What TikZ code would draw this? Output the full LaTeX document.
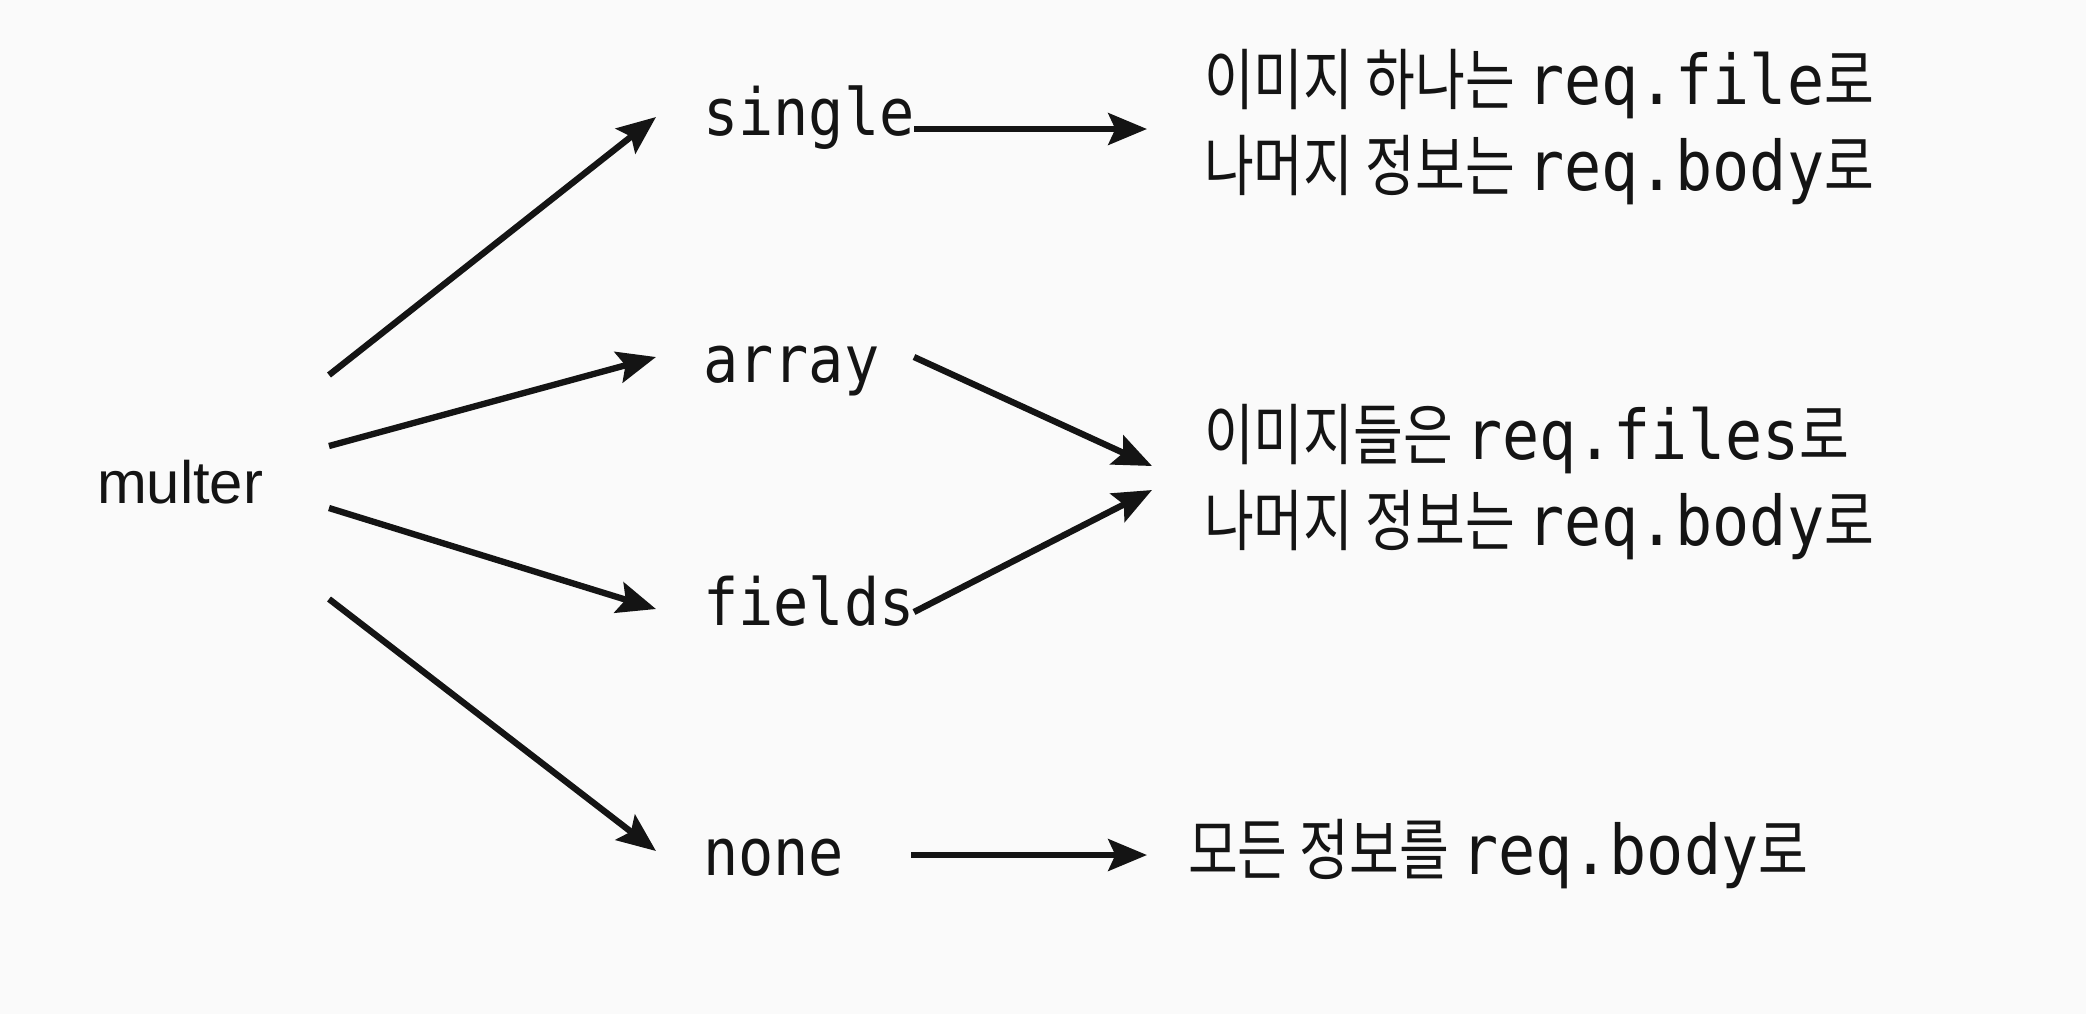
\documentclass[tikz,border=0pt]{standalone}
\usepackage{fontspec}
\usetikzlibrary{arrows.meta}
\setmainfont{Liberation Sans}
\newfontfamily\monof{DejaVu Sans Mono}[FakeStretch=0.9]
\newfontfamily\krf{Noto Sans CJK KR}[FakeStretch=0.81]
\definecolor{ink}{HTML}{141414}
\definecolor{paper}{HTML}{FAFAFA}
\newcommand{\kt}[1]{{\krf #1}}
\newcommand{\mt}[1]{{\monof\fontsize{19.5}{22}\selectfont #1}}
\begin{document}
\begin{tikzpicture}[x=0.01cm,y=-0.01cm,
  lbl/.style={inner sep=0pt,outer sep=0pt,anchor=base west,text=ink},
  sanslbl/.style={lbl,font=\fontsize{17}{20}\selectfont},
  monolbl/.style={lbl,font=\monof\fontsize{18.5}{22}\selectfont},
  desc/.style={lbl,font=\fontsize{19}{22}\selectfont},
  arr/.style={draw=ink,line width=1.8pt,-{Stealth[length=11pt,width=9pt,inset=2pt]}}]
\fill[paper] (0,0) rectangle (2086,1014);
\useasboundingbox (0,0) rectangle (2086,1014);

\node[sanslbl] (multer) at (97,503) {multer};

\node[monolbl] (single) at (703,135) {single};
\node[monolbl] (array)  at (703,382) {array};
\node[monolbl] (fields) at (703,625) {fields};
\node[monolbl] (none)   at (703,875) {none};

\node[desc] (t1a) at (1204,104) {\kt{이미지 하나는 }\mt{req.file}\kt{로}};
\node[desc] (t1b) at (1204,190) {\kt{나머지 정보는 }\mt{req.body}\kt{로}};
\node[desc] (t2a) at (1204,459) {\kt{이미지들은 }\mt{req.files}\kt{로}};
\node[desc] (t2b) at (1204,545) {\kt{나머지 정보는 }\mt{req.body}\kt{로}};
\node[desc] (t3)  at (1188,874) {\kt{모든 정보를 }\mt{req.body}\kt{로}};

\draw[arr] ([shift={(232,-128)}]multer.base west) -- ([shift={(-47,-18)}]single.base west);
\draw[arr] ([shift={(232,-57)}]multer.base west) -- ([shift={(-47,-25)}]array.base west);
\draw[arr] ([shift={(232,5)}]multer.base west) -- ([shift={(-47,-16)}]fields.base west);
\draw[arr] ([shift={(232,96)}]multer.base west) -- ([shift={(-47,-24)}]none.base west);

\draw[arr] ([shift={(211,-6)}]single.base west) -- ([shift={(-57,25)}]t1a.base west);
\draw[arr] ([shift={(211,-25)}]array.base west) -- ([shift={(-52,7)}]t2a.base west);
\draw[arr] ([shift={(211,-13)}]fields.base west) -- ([shift={(-52,31)}]t2a.base west);
\draw[arr] ([shift={(208,-20)}]none.base west) -- ([shift={(-41,-19)}]t3.base west);
\end{tikzpicture}
\end{document}
